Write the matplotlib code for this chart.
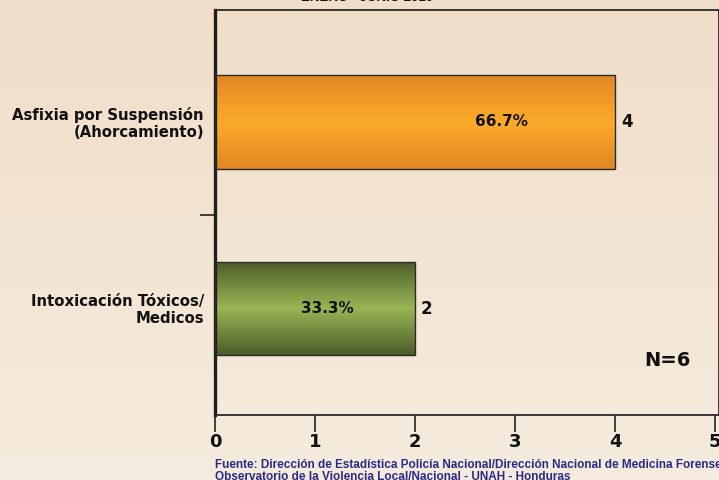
import numpy as np
import matplotlib
matplotlib.use("Agg")
import matplotlib.pyplot as plt
from matplotlib.colors import LinearSegmentedColormap

categories = ["Intoxicación Tóxicos/\nMedicos", "Asfixia por Suspensión\n(Ahorcamiento)"]
values = [2, 4]
percents = ["33.3%", "66.7%"]
pct_x = [1.12, 2.86]
xticks = [0, 1, 2, 3, 4, 5]
title = "ENERO - JUNIO 2010"
n_label = "N=6"
source = ("Fuente: Dirección de Estadística Policía Nacional/Dirección Nacional de Medicina Forense\n"
          "Observatorio de la Violencia Local/Nacional - UNAH - Honduras")

W, H = 719, 480
fig = plt.figure(figsize=(W / 100, H / 100), dpi=100)

# background gradient
bg = fig.add_axes([0, 0, 1, 1], zorder=-10)
bgcm = LinearSegmentedColormap.from_list("bg", [(0.961, 0.922, 0.871), (0.941, 0.871, 0.784)])
bg.imshow(np.linspace(0, 1, 256).reshape(-1, 1), aspect="auto", cmap=bgcm,
          extent=[0, 1, 0, 1], origin="lower")
bg.set_axis_off()

left, right = 215 / W, 719 / W
top, bottom = 1 - 10 / H, 1 - 415 / H
ax = fig.add_axes([left, bottom, right - left, top - bottom])
ax.patch.set_alpha(0)

ypos = np.arange(len(categories))
bars = ax.barh(ypos, values, height=0.5, color="none", edgecolor="#2a2a2a", linewidth=1.0, zorder=3)

orange = LinearSegmentedColormap.from_list("o", [(0.88, 0.53, 0.14), (0.99, 0.67, 0.17), (0.88, 0.53, 0.14)])
green = LinearSegmentedColormap.from_list("g", [(0.30, 0.36, 0.16), (0.60, 0.71, 0.33), (0.30, 0.36, 0.16)])
cmaps = [green, orange]
grad = np.linspace(0, 1, 256).reshape(-1, 1)
for b, cm in zip(bars, cmaps):
    x0, y0 = b.get_x(), b.get_y()
    w, h = b.get_width(), b.get_height()
    im = ax.imshow(grad, aspect="auto", cmap=cm, extent=[x0, x0 + w, y0, y0 + h],
                   origin="lower", zorder=2)
    im.set_clip_path(b)

ax.set_xlim(0, 5.04)
ax.set_ylim(-0.57, 1.6)

for y, v, p, px in zip(ypos, values, percents, pct_x):
    ax.text(px, y, p, ha="center", va="center", fontsize=11, fontweight="bold", color="#111111", zorder=5)
    ax.text(v + 0.06, y, str(v), ha="left", va="center", fontsize=12, fontweight="bold", color="#111111", zorder=5)

ax.set_yticks([0.5])
ax.set_yticklabels([""])
ax.tick_params(axis="y", length=11, width=1.2, color="#222222", direction="out")
for y, c in zip(ypos, categories):
    ax.text(-0.11, y - 0.008, c, ha="right", va="center", fontsize=10.7, fontweight="bold",
            color="#111111", linespacing=1.2, transform=ax.transData)

ax.set_xticks(xticks)
ax.set_xticklabels([str(t) for t in xticks], fontsize=13, fontweight="bold", color="#111111")
ax.tick_params(axis="x", length=12, width=1.2, color="#222222", direction="out", pad=1)

for s in ["top", "bottom", "right"]:
    ax.spines[s].set_linewidth(1.3)
    ax.spines[s].set_color("#2a2a2a")
ax.spines["left"].set_linewidth(2.4)
ax.spines["left"].set_color("#1e1e1e")

ax.text(4.52, -0.28, n_label, ha="center", va="center", fontsize=14, fontweight="bold", color="#111111")

fig.text(367 / W, 1 - 4 / H, title, ha="center", va="bottom", fontsize=9.5, fontweight="bold",
         family="Liberation Sans", color="#111111")
fig.text(215 / W, 1 - 459 / H, source, ha="left", va="top", fontsize=8.5, fontweight="bold",
         family="Liberation Sans", color="#2b2b86", linespacing=1.02)

fig.savefig("out.png", dpi=100)
